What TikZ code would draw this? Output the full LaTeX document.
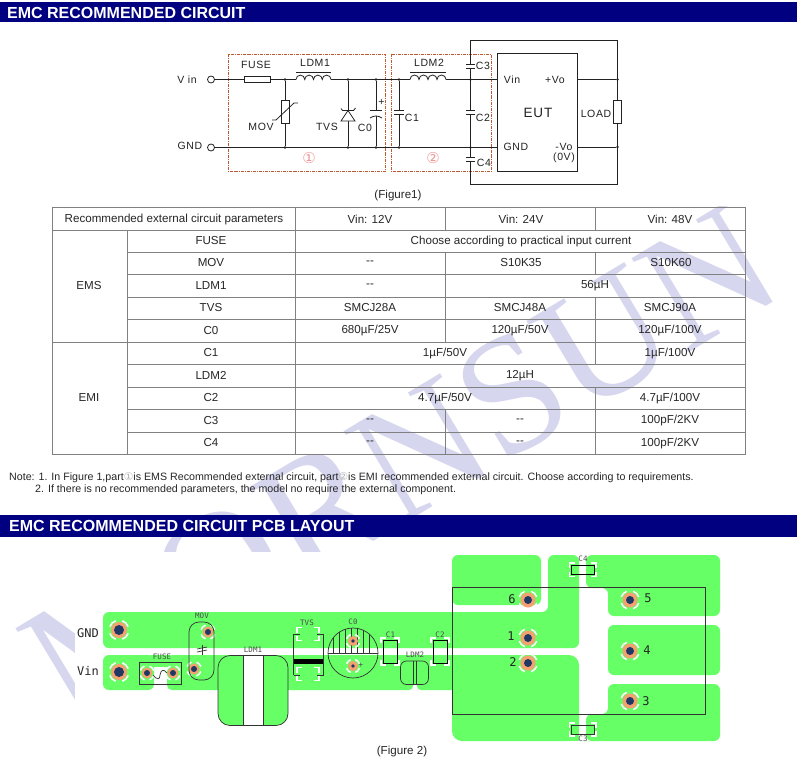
\documentclass[tikz,border=0pt]{standalone}
\usepackage{fontspec}
\setmainfont{Liberation Sans}
\newfontfamily\wmfont{Liberation Serif}
\newfontfamily\symfont{DejaVu Sans}
\newfontfamily\cadfont{DejaVu Sans Mono}
\newfontfamily\schfont[LetterSpace=6]{Liberation Sans}
\usepackage{tikz}
\usetikzlibrary{positioning}
\usetikzlibrary{calc}

\definecolor{navybar}{HTML}{000080}
\definecolor{wmark}{HTML}{D6D6EE}
\definecolor{boxred}{HTML}{BE5A32}
\definecolor{pink}{HTML}{EE9A9A}
\definecolor{wire}{HTML}{222222}
\definecolor{pcbgreen}{HTML}{66FF66}
\definecolor{padring}{HTML}{F4A070}
\definecolor{padhole}{HTML}{1F3864}

\tikzset{
  bar/.style={fill=navybar, draw=none},
  bartext/.style={text=white, font=\bfseries\fontsize{16}{16}\selectfont, anchor=west, inner sep=0pt},
  circuit/.style={line width=0.8pt, draw=wire},
  part/.style={draw=wire, line width=0.8pt, fill=white, rectangle, inner sep=0pt},
  terminal/.style={draw=wire, line width=0.8pt, fill=white, circle, inner sep=0pt, minimum size=7pt},
  dot/.style={fill=wire, circle, inner sep=0pt, minimum size=2.6pt},
  schlabel/.style={text=wire, font=\schfont\fontsize{10.5}{11}\selectfont, inner sep=0pt},
  dashbox/.style={draw=boxred, line width=0.9pt, densely dashdotted},
  cell/.style={font=\fontsize{11.6}{12}\selectfont, text=black!85, inner sep=0pt},
  rule/.style={draw=black!50, line width=1pt},
  note/.style={font=\fontsize{10.67}{11}\selectfont, text=black!85, anchor=west, inner sep=0pt},
  copper/.style={fill=pcbgreen, draw=none},
  outline/.style={draw=black!80, line width=0.7pt},
  keepout/.style={draw=white, line width=1.3pt},
  silk/.style={font=\cadfont\fontsize{7.5}{8}\selectfont, text=black!70, inner sep=0pt},
  pinlabel/.style={font=\cadfont\fontsize{12}{12}\selectfont, text=black!85, inner sep=0pt}
}

% one solder pad: name, position, ring radius, hole radius
\newcommand{\pcbpad}[4]{
  \coordinate (#1) at (#2);
  \foreach \a in {20,110,200,290}
    \draw[white, line width=1.5pt] ($(#1)+(\a:#3pt+1.8pt)$) arc[start angle=\a, delta angle=50, radius=#3pt+1.8pt];
  \fill[padring] (#1) circle (#3pt);
  \fill[padhole] (#1) circle (#4pt);
}
% white corner marks of a small part: left, top, right, bottom
\newcommand{\partmarks}[4]{
  \draw[keepout] (#1-2,#2+3) -- (#1-2,#2-2) -- (#1+3,#2-2);
  \draw[keepout] (#3-3,#2-2) -- (#3+2,#2-2) -- (#3+2,#2+3);
  \draw[keepout] (#1-2,#4-3) -- (#1-2,#4+2) -- (#1+3,#4+2);
  \draw[keepout] (#3-3,#4+2) -- (#3+2,#4+2) -- (#3+2,#4-3);
}

\begin{document}
\begin{tikzpicture}[x=1pt, y=-1pt]
  \useasboundingbox (0,0) rectangle (797,760);
  \fill[white] (0,0) rectangle (797,760);

  % watermark
  \node[text=wmark, rotate=31, font=\wmfont\fontsize{168}{168}\selectfont, inner sep=0pt] (mark) at (400,462) {MORNSUN};
  \fill[white] (0,0) rectangle (797,206);
  \fill[white] (0,552) rectangle (797,597);
  \fill[white] (75,597) rectangle (797,760);
  \fill[white] (0,706) rectangle (75,760);

  % headers
  \fill[bar] (0,2) rectangle (797,22);
  \node[bartext] (head1) at (7,12.5) {EMC RECOMMENDED CIRCUIT};
  \fill[bar] (0,515) rectangle (797,537);
  \node[bartext] (head2) at (9,526) {EMC RECOMMENDED CIRCUIT PCB LAYOUT};

  % figure 1
  \draw[dashbox] (228.5,54.5) rectangle (385.5,171.5);
  \draw[dashbox] (391.5,54.5) rectangle (491.5,171.5);

  \node[terminal] (vin) at (211,79.5) {};
  \node[terminal] (gnd) at (211,147.5) {};
  \node[schlabel] (vinl) at (187,79.5) {V in};
  \node[schlabel] (gndl) at (190,146) {GND};

  \node[part, minimum width=26pt, minimum height=6.5pt] (fuse) at (257,79.5) {};
  \node[schlabel] (fusel) at (256,65) {FUSE};
  \coordinate (ldma) at (296,79.5);
  \coordinate (ldmb) at (331,79.5);
  \coordinate (ldmc) at (410,79.5);
  \coordinate (ldmd) at (446,79.5);
  \node[schlabel] (ldma1) at (315,63) {LDM1};
  \node[schlabel] (ldmc1) at (429,63) {LDM2};

  \node[dot] (t1) at (285,79.5) {};
  \node[dot] (t2) at (348,79.5) {};
  \node[dot] (t3) at (376,79.5) {};
  \node[dot] (t4) at (399,79.5) {};
  \node[dot] (t5) at (470.5,79.5) {};
  \node[dot] (b1) at (285,147.5) {};
  \node[dot] (b2) at (348,147.5) {};
  \node[dot] (b3) at (376,147.5) {};
  \node[dot] (b4) at (399,147.5) {};
  \node[dot] (b5) at (470.5,147.5) {};

  \node[part, minimum width=8pt, minimum height=23pt] (mov) at (285,111.5) {};
  \node[schlabel] (movl) at (261,127) {MOV};
  \node[schlabel] (tvsl) at (327,126.5) {TVS};
  \node[schlabel] (c0l) at (365,127.5) {C0};
  \node[schlabel] (c1l) at (412,118) {C1};
  \node[schlabel] (c3l) at (483,66) {C3};
  \node[schlabel] (c2l) at (483,118) {C2};
  \node[schlabel] (c4l) at (484,163) {C4};

  \draw[circuit] (vin) -- (fuse) -- (ldma);
  \draw[circuit] (ldma) arc (180:0:4.375pt) arc (180:0:4.375pt) arc (180:0:4.375pt) arc (180:0:4.375pt);
  \draw[circuit] (ldmb) -- (ldmc);
  \draw[circuit] (ldmc) arc (180:0:4.5pt) arc (180:0:4.5pt) arc (180:0:4.5pt) arc (180:0:4.5pt);
  \draw[circuit] (ldmd) -- (497,79.5);
  \draw[circuit] (296,72.5) -- (331,72.5);
  \draw[circuit] (410,72.5) -- (446,72.5);
  \draw[circuit] (gnd) -- (497,147.5);
  \draw[circuit] (t1) -- (mov) -- (b1);
  \draw[circuit] (272,120) -- (276,120) -- (294,103) -- (298,103);

  % tvs
  \draw[circuit] (t2) -- (b2);
  \draw[circuit, fill=white] (348,110.5) -- (341,121) -- (355,121) -- cycle;
  \draw[circuit] (341,108.5) -- (342.5,110.5) -- (353.5,110.5) -- (355.5,108);

  % c0
  \draw[circuit] (t3) -- (376,110);
  \draw[circuit] (370,110.5) -- (382,110.5);
  \draw[circuit] (370,118) to[bend left=35] (382,118);
  \draw[circuit] (376,115.5) -- (b3);
  \node[schlabel] (c0p) at (381.5,102.5) {+};

  % c1, c2, c3, c4
  \draw[circuit] (t4) -- (399,110);
  \draw[circuit] (394,110) -- (404,110);
  \draw[circuit] (394,114.5) -- (404,114.5);
  \draw[circuit] (399,114.5) -- (b4);
  \draw[circuit] (470.5,40.5) -- (617.5,40.5) -- (617.5,100);
  \draw[circuit] (617.5,123) -- (617.5,184) -- (470.5,184) -- (470.5,161);
  \draw[circuit] (470.5,40.5) -- (470.5,64);
  \draw[circuit] (466,64) -- (475,64);
  \draw[circuit] (466,68) -- (475,68);
  \draw[circuit] (470.5,68) -- (470.5,110);
  \draw[circuit] (466,110) -- (475,110);
  \draw[circuit] (466,114) -- (475,114);
  \draw[circuit] (470.5,114) -- (470.5,157);
  \draw[circuit] (466,157) -- (475,157);
  \draw[circuit] (466,161) -- (475,161);

  \node[part, minimum width=80pt, minimum height=118pt] (eut) at (537,112.5) {};
  \node[schlabel, font=\schfont\fontsize{13.5}{14}\selectfont] (eutl) at (538,113) {EUT};
  \node[schlabel] (evin) at (512,79.5) {Vin};
  \node[schlabel] (evo) at (555,79.5) {+Vo};
  \node[schlabel] (egnd) at (516,147) {GND};
  \node[schlabel] (envo) at (564,147) {-Vo};
  \node[schlabel] (ezero) at (564,158) {(0V)};
  \node[part, minimum width=8pt, minimum height=23pt] (load) at (617.5,111.5) {};
  \node[schlabel] (loadl) at (596,114) {LOAD};
  \node[dot] (lt) at (617.5,79.5) {};
  \node[dot] (lb) at (617.5,147) {};
  \draw[circuit] (577,79.5) -- (lt);
  \draw[circuit] (577,147) -- (lb);

  \node[text=pink, font=\symfont\fontsize{15}{15}\selectfont, inner sep=0pt] (one) at (309,158) {①};
  \node[text=pink, font=\symfont\fontsize{15}{15}\selectfont, inner sep=0pt] (two) at (433,158) {②};
  \node[cell] (fig1) at (398,195) {(Figure1)};

  % table
  \draw[rule] (52,207) rectangle (745,454.5);
  \draw[rule] (52,230.5) -- (745,230.5);
  \draw[rule] (127,252) -- (745,252);
  \draw[rule] (127,274.5) -- (745,274.5);
  \draw[rule] (127,297) -- (745,297);
  \draw[rule] (127,319.5) -- (745,319.5);
  \draw[rule] (52,342) -- (745,342);
  \draw[rule] (127,364.5) -- (745,364.5);
  \draw[rule] (127,387) -- (745,387);
  \draw[rule] (127,409.5) -- (745,409.5);
  \draw[rule] (127,432) -- (745,432);
  \draw[rule] (127,230.5) -- (127,454.5);
  \draw[rule] (295.5,207) -- (295.5,454.5);
  \draw[rule] (445.5,207) -- (445.5,230.5);
  \draw[rule] (595.5,207) -- (595.5,230.5);
  \draw[rule] (445.5,252) -- (445.5,342);
  \draw[rule] (595.5,252) -- (595.5,274.5);
  \draw[rule] (595.5,297) -- (595.5,364.5);
  \draw[rule] (595.5,387) -- (595.5,454.5);
  \draw[rule] (445.5,409.5) -- (445.5,454.5);

  \node[cell] (head) at (174,219) {Recommended external circuit parameters};
  \node[cell] (h12) at (370,219) {Vin: 12V};
  \node[cell] (h24) at (521,219) {Vin: 24V};
  \node[cell] (h48) at (670,219) {Vin: 48V};
  \node[cell] (ems) at (89,286) {EMS};
  \node[cell] (emi) at (89,398) {EMI};

  \node[cell] (rfuse) at (211,241) {FUSE};
  \node[cell] (rmov) at (211,263) {MOV};
  \node[cell] (rldma) at (211,285.5) {LDM1};
  \node[cell] (rtvs) at (211,308) {TVS};
  \node[cell] (rcz) at (211,330.5) {C0};
  \node[cell] (rco) at (211,353) {C1};
  \node[cell] (rldmb) at (211,375.5) {LDM2};
  \node[cell] (rct) at (211,398) {C2};
  \node[cell] (rcth) at (211,420.5) {C3};
  \node[cell] (rcf) at (211,443) {C4};

  \node[cell] (vfuse) at (521,241) {Choose according to practical input current};
  \node[cell] (vmova) at (370,263) {-{}-};
  \node[cell] (vmovb) at (521,263) {S10K35};
  \node[cell] (vmovc) at (671,263) {S10K60};
  \node[cell] (vldma) at (370,285.5) {-{}-};
  \node[cell] (vldmb) at (595,285.5) {56µH};
  \node[cell] (vtvsa) at (370,308) {SMCJ28A};
  \node[cell] (vtvsb) at (520,308) {SMCJ48A};
  \node[cell] (vtvsc) at (670,308) {SMCJ90A};
  \node[cell] (vcza) at (370,330.5) {680µF/25V};
  \node[cell] (vczb) at (520,330.5) {120µF/50V};
  \node[cell] (vczc) at (670,330.5) {120µF/100V};
  \node[cell] (vcoa) at (445,353) {1µF/50V};
  \node[cell] (vcob) at (670,353) {1µF/100V};
  \node[cell] (vldmc) at (520,375.5) {12µH};
  \node[cell] (vcta) at (445,398) {4.7µF/50V};
  \node[cell] (vctb) at (670,398) {4.7µF/100V};
  \node[cell] (vctha) at (370,420.5) {-{}-};
  \node[cell] (vcthb) at (520,420.5) {-{}-};
  \node[cell] (vcthc) at (670,420.5) {100pF/2KV};
  \node[cell] (vcfa) at (370,443) {-{}-};
  \node[cell] (vcfb) at (520,443) {-{}-};
  \node[cell] (vcfc) at (670,443) {100pF/2KV};

  % notes
  \node[note] (note1) at (9,478) {Note: 1. In Figure 1,part{\symfont\color{black!30}①}is EMS Recommended external circuit, part{\symfont\color{black!30}②}is EMI recommended external circuit. Choose according to requirements.};
  \node[note] (note2) at (35,490) {2. If there is no recommended parameters, the model no require the external component.};

  % figure 2, copper
  \fill[copper, rounded corners=6pt] (452,555) -- (541,555) -- (541,605) -- (452,605) -- cycle;
  \fill[copper, rounded corners=6pt] (103,612) -- (548,612) -- (548,555) -- (579,555) -- (579,648) -- (103,648) -- cycle;
  \fill[copper] (560,630) rectangle (579,640);
  \fill[copper, rounded corners=6pt] (103,655) -- (154,655) -- (154,690) -- (103,690) -- cycle;
  \fill[copper] (150,655) rectangle (170,667);
  \fill[copper, rounded corners=5pt] (167,655) -- (300,655) -- (300,690) -- (167,690) -- cycle;
  \fill[copper, rounded corners=12pt] (218,655.5) -- (288,655.5) -- (288,725.5) -- (218,725.5) -- cycle;
  \fill[white] (243.5,655.5) rectangle (263.5,725.5);
  \fill[copper, rounded corners=4pt] (288,655) -- (413,655) -- (413,690) -- (288,690) -- cycle;
  \fill[copper] (400,655) rectangle (425,685);
  \fill[copper, rounded corners=4pt] (417,655) -- (470,655) -- (470,690) -- (417,690) -- cycle;
  \fill[copper, rounded corners=10pt] (452,680) -- (452,741) -- (579,741) -- (579,655) -- (452,655) -- cycle;
  \fill[copper] (560,725) rectangle (579,741);
  \fill[copper, rounded corners=6pt] (586,555) -- (720,555) -- (720,616) -- (608,616) -- (608,588) -- (586,588) -- cycle;
  \fill[copper, rounded corners=6pt] (608,625) -- (720,625) -- (720,675) -- (608,675) -- cycle;
  \fill[copper, rounded corners=6pt] (608,684) -- (720,684) -- (720,741) -- (590,741) -- (586,741) -- (586,714) -- (608,714) -- cycle;

  % figure 2, outlines
  \draw[outline] (452.5,587.5) rectangle (705.5,714.5);
  \draw[outline, rounded corners=12pt] (218,655.5) rectangle (288,725.5);
  \draw[outline] (243.5,655.5) -- (243.5,725.5);
  \draw[outline] (263.5,655.5) -- (263.5,725.5);
  \node[silk] (sldm) at (253,650) {LDM1};

  \pcbpad{gp}{119,630}{8}{5}
  \pcbpad{vp}{119,672}{8}{5}
  \pcbpad{mpa}{208,632}{5.5}{3}
  \pcbpad{mpb}{194,669}{5.5}{3}
  \pcbpad{fpa}{147,673}{5.5}{3}
  \pcbpad{fpb}{173,673}{5.5}{3}
  \pcbpad{cpb}{353,666}{5}{1.8}
  \pcbpad{p6}{528,600}{7.5}{4}
  \pcbpad{p1}{528,638}{7.5}{4}
  \pcbpad{p2}{528,663}{7.5}{4}
  \pcbpad{p5}{630,600}{7.5}{4}
  \pcbpad{p4}{630,651}{7.5}{4}
  \pcbpad{p3}{630,701}{7.5}{4}

  \draw[outline, rounded corners=10pt] (189,622) rectangle (214,680);
  \draw[outline] (202,645) -- (202,655);
  \draw[outline] (197,649) -- (207,647);
  \draw[outline] (197,652) -- (207,650);
  \node[silk] (smov) at (202,615.5) {MOV};

  \draw[outline] (139,662) rectangle (181.5,684);
  \draw[outline] (153,675) .. controls (157,680) and (160,680) .. (160,675) .. controls (161,669) and (164,669) .. (167,673);
  \node[silk] (sfuse) at (162,657) {FUSE};

  \node[pinlabel] (lgnd) at (88,633) {GND};
  \node[pinlabel] (lvin) at (88,671) {Vin};

  % tvs
  \draw[outline] (293.5,634) -- (293.5,675) (323.5,634) -- (323.5,675);
  \draw[outline] (293.5,634) -- (300,634) (317,634) -- (323.5,634);
  \draw[outline] (293.5,675) -- (300,675) (317,675) -- (323.5,675);
  \fill[black] (294,659) rectangle (323,664);
  \partmarks{299}{629.5}{317}{638.5}
  \partmarks{299}{669.5}{317}{678.5}
  \node[silk] (stvs) at (307,623) {TVS};

  % c0
  \begin{scope}
    \clip (353,653) circle (25pt);
    \draw[black!80, line width=0.7pt] (333,628) -- (333,653) (339,628) -- (339,653) (345,628) -- (345,653);
    \draw[black!80, line width=0.7pt] (351,628) -- (351,653) (357,628) -- (357,653) (363,628) -- (363,653) (369,628) -- (369,653);
  \end{scope}
  \draw[outline] (353,653) circle (25pt);
  \draw[outline] (328,653.5) -- (378,653.5);
  \pcbpad{cpa}{353,641}{5}{1.8}
  \node[silk] (sczero) at (353,622) {C0};
  \node[silk] (scplus) at (361,665.5) {+};

  % c1, c2, ldm2
  \partmarks{383}{640}{397}{663}
  \partmarks{433}{640}{447}{663}
  \draw[outline, black] (383,640) rectangle (397,663);
  \draw[outline, black] (433,640) rectangle (447,663);
  \node[silk] (scone) at (390.5,635) {C1};
  \node[silk] (sctwo) at (440,635) {C2};
  \draw[outline, rounded corners=6pt] (400.5,661) rectangle (428.5,684.5);
  \draw[outline] (413,661) -- (413,684.5) (416,661) -- (416,684.5);
  \node[silk] (sldmb) at (415,655) {LDM2};
  \fill[white] (413,685) rectangle (417,693);

  % c3, c4
  \partmarks{571.5}{565}{594}{574.5}
  \partmarks{571.5}{725}{594}{734}
  \draw[outline, black] (571.5,565) rectangle (594,574.5);
  \draw[outline] (571.5,725) rectangle (594,734);
  \node[silk] (scfour) at (583,559) {C4};
  \node[silk] (scthree) at (583,739) {C3};

  \node[pinlabel] (n6) at (512,599) {6};
  \node[pinlabel] (n5) at (648,598) {5};
  \node[pinlabel] (n1) at (511,636) {1};
  \node[pinlabel] (n2) at (513,662) {2};
  \node[pinlabel] (n4) at (647,650) {4};
  \node[pinlabel] (n3) at (646,701) {3};

  \node[cell] (fig2) at (402,751) {(Figure 2)};
\end{tikzpicture}
\end{document}
